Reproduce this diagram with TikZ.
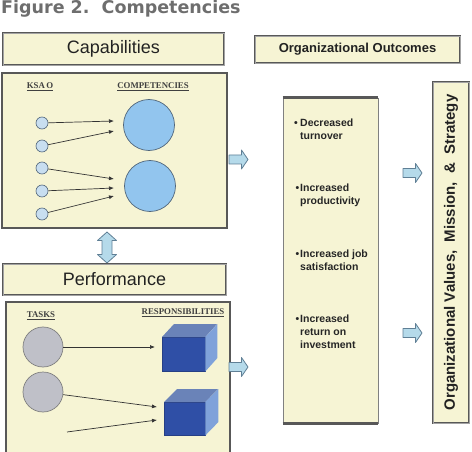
\documentclass[tikz,border=0pt]{standalone}
\usepackage{fontspec}
\setmainfont{Liberation Sans}
\newfontfamily\titlefont{DejaVu Sans}
\newfontfamily\labfont{Liberation Serif}
\usetikzlibrary{arrows.meta}
\definecolor{boxfill}{HTML}{F6F4D4}
\definecolor{boxline}{HTML}{585858}
\definecolor{smallblue}{HTML}{C8DEF0}
\definecolor{bigblue}{HTML}{92C5EE}
\definecolor{circline}{HTML}{50657A}
\definecolor{taskgray}{HTML}{BFC0C8}
\definecolor{arrowfill}{HTML}{B5DAEA}
\definecolor{arrowline}{HTML}{5F7F95}
\definecolor{cubefront}{HTML}{2F4FA6}
\definecolor{cubetop}{HTML}{6A83B8}
\definecolor{cubeside}{HTML}{7FA2DA}
\definecolor{titlegray}{HTML}{6E6E6E}
\definecolor{textdark}{HTML}{222222}
\begin{document}
\begin{tikzpicture}[x=1pt,y=-1pt,
  headbox/.style={draw=boxline, line width=0.9pt, double=lightgray!85!black, double distance=0.8pt, fill=boxfill, inner sep=0pt, text=textdark},
  panel/.style={draw=boxline, line width=2pt, fill=boxfill, inner sep=0pt},
  ksao/.style={circle, draw=circline, line width=0.6pt, fill=smallblue, minimum size=12pt, inner sep=0pt},
  comp/.style={circle, draw=circline, line width=0.7pt, fill=bigblue, minimum size=51pt, inner sep=0pt},
  task/.style={circle, draw=gray, line width=0.7pt, fill=taskgray, minimum size=40pt, inner sep=0pt},
  cubef/.style={rectangle, fill=cubefront, draw=cubefront!80!black, line width=0.4pt, inner sep=0pt, anchor=north west},
  link/.style={draw=black!80, line width=0.7pt, -{Latex[length=5pt,width=4pt]}},
  lab/.style={font=\labfont\bfseries\fontsize{8.8}{10}\selectfont, text=black!75, inner sep=0pt},
  item/.style={font=\bfseries\fontsize{10.5}{13}\selectfont, text=black!85, align=left, anchor=north west, inner sep=0pt},
  blockarrow/.style={draw=arrowline, line width=0.8pt, fill=arrowfill, line join=round},
  rarrow/.pic={\path[blockarrow] (0,-4.5) -- (12.5,-4.5) -- (12.5,-9.5) -- (19,0) -- (12.5,9.5) -- (12.5,4.5) -- (0,4.5) -- cycle;}
]
\useasboundingbox (0,0) rectangle (472,452);

% title
\node[anchor=west, inner sep=0pt, text=titlegray, font=\titlefont\bfseries\fontsize{17.5}{20}\selectfont] (title) at (1,9) {Figure 2.\ \ Competencies};

% capabilities
\node[headbox, minimum width=221pt, minimum height=32pt, font=\fontsize{18}{20}\selectfont] (cap) at (113.5,49) {Capabilities};
\node[panel, minimum width=225pt, minimum height=155pt] (ksaobox) at (114.5,150.5) {};
\node[lab] (ksaolab) at (40,87) {\underline{KSA\,O}};
\node[lab] (complab) at (153,87) {\underline{COMPETENCIES}};

\node[ksao] (s1) at (42,123) {};
\node[ksao] (s2) at (42,146) {};
\node[ksao] (s3) at (42,168) {};
\node[ksao] (s4) at (42,191) {};
\node[ksao] (s5) at (42,214) {};
\node[comp] (c1) at (149,125) {};
\node[comp] (c2) at (150,186) {};
\coordinate (t1) at (114,121);
\coordinate (t2) at (114,131);
\coordinate (t3) at (114,179);
\coordinate (t4) at (114,188);
\coordinate (t5) at (114,196);
\draw[link] (s1) -- (t1);
\draw[link] (s2) -- (t2);
\draw[link] (s3) -- (t3);
\draw[link] (s4) -- (t4);
\draw[link] (s5) -- (t5);

% double arrow
\path[blockarrow] (107,232) -- (116.5,240.5) -- (112,240.5) -- (112,254.5) -- (116.5,254.5) -- (107,263) -- (97.5,254.5) -- (102,254.5) -- (102,240.5) -- (97.5,240.5) -- cycle;

% performance
\node[headbox, minimum width=223pt, minimum height=31pt, font=\fontsize{18}{20}\selectfont] (perf) at (114.5,279.5) {Performance};
\node[panel, minimum width=224pt, minimum height=170pt, anchor=north west] (taskbox) at (5,301) {};
\node[lab] (tasklab) at (41,316) {\underline{TASKS}};
\node[lab] (resplab) at (183,313) {\underline{RESPONSIBILITIES}};

\node[task] (g1) at (43,347) {};
\node[task] (g2) at (43,392) {};

\node[cubef, minimum width=43pt, minimum height=34pt] (cube1) at (162,337) {};
\fill[cubetop] (cube1.north west) -- ++(12,-13) -- ++(43,0) -- (cube1.north east) -- cycle;
\fill[cubeside] (cube1.north east) -- ++(12,-13) -- ++(0,34) -- (cube1.south east) -- cycle;
\node[cubef, minimum width=41pt, minimum height=33pt] (cube2) at (164,402) {};
\fill[cubetop] (cube2.north west) -- ++(13,-13) -- ++(41,0) -- (cube2.north east) -- cycle;
\fill[cubeside] (cube2.north east) -- ++(13,-13) -- ++(0,33) -- (cube2.south east) -- cycle;

\coordinate (r1) at (155,347);
\coordinate (r2) at (157,407);
\coordinate (r3) at (157,420);
\coordinate (f3) at (67,432);
\draw[link] (g1) -- (r1);
\draw[link] (g2) -- (r2);
\draw[link] (f3) -- (r3);

% right block arrows
\pic at (229,159.5) {rarrow};
\pic at (229,367) {rarrow};
\pic at (403,173) {rarrow};
\pic at (403,333) {rarrow};

% outcomes
\node[headbox, minimum width=205pt, minimum height=27pt, font=\bfseries\fontsize{13}{15}\selectfont] (outhead) at (357.5,49.5) {Organizational Outcomes};
\node[draw=gray, line width=0.8pt, fill=boxfill, minimum width=95pt, minimum height=325pt, inner sep=0pt] (outbox) at (330.5,260.5) {};
\draw[boxline, line width=2.5pt] (outbox.north west) -- (outbox.north east);
\draw[boxline, line width=2.5pt] (outbox.south west) -- (outbox.south east);

\node[item] (o1) at (300,119) {\makebox[0pt][r]{•\hspace{2.5pt}}Decreased\\turnover};
\node[item] (o2) at (300,184) {\makebox[0pt][r]{•\hspace{1pt}}Increased\\productivity};
\node[item] (o3) at (300,250) {\makebox[0pt][r]{•\hspace{1pt}}Increased job\\satisfaction};
\node[item] (o4) at (300,315) {\makebox[0pt][r]{•\hspace{1pt}}Increased\\return on\\investment};

% values
\node[headbox, minimum width=341pt, minimum height=36pt, rotate=90, font=\bfseries\fontsize{15}{17}\selectfont] (values) at (451,252.5) {Organizational Values,\ \ Mission,\ \ \&\ \ Strategy};
\end{tikzpicture}
\end{document}
